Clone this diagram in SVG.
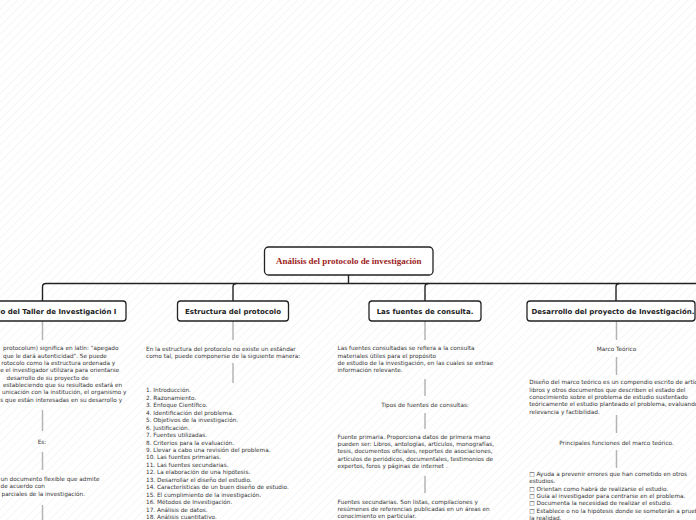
<svg xmlns="http://www.w3.org/2000/svg" width="696" height="520" viewBox="0 0 696 520">
<defs>
<pattern id="hatch" width="6" height="6" patternUnits="userSpaceOnUse" patternTransform="rotate(45)">
<line x1="0" y1="0" x2="0" y2="6" stroke="#ededed" stroke-width="1"/>
</pattern>
<style>
.t{font-family:"DejaVu Sans",Verdana,sans-serif;font-size:5.75px;fill:#333}
.c{text-anchor:middle}
.n{font-family:"DejaVu Sans",Verdana,sans-serif;font-weight:bold;font-size:7px;fill:#222;text-anchor:middle}
.r{font-family:"Liberation Serif","Times New Roman",serif;font-weight:bold;font-size:8.5px;fill:#9b1c1c;text-anchor:middle}
.box{fill:#fff;stroke:#222;stroke-width:1.3}
.tree{fill:none;stroke:#222;stroke-width:1.4}
.g{stroke:#b4b4b4;stroke-width:1.5}
</style>
</defs>
<rect width="696" height="520" fill="#fff"/>
<rect width="696" height="520" fill="url(#hatch)"/>

<g id="connectors">
<path class="tree" d="M348.5 275 V283.5"/>
<path class="tree" d="M42.5 301 V287 Q42.5 283.5 46 283.5 H700"/>
<path class="tree" d="M233 301 V287 Q233 283.5 236.5 283.5"/>
<path class="tree" d="M425 301 V287 Q425 283.5 428.5 283.5"/>
<path class="tree" d="M616 301 V287 Q616 283.5 619.5 283.5"/>
<g class="g">
<line x1="42.5" y1="321" x2="42.5" y2="340"/>
<line x1="42.5" y1="410" x2="42.5" y2="431"/>
<line x1="42.5" y1="452" x2="42.5" y2="470"/>
<line x1="42.5" y1="505" x2="42.5" y2="520"/>
<line x1="233" y1="321" x2="233" y2="340"/>
<line x1="233" y1="363" x2="233" y2="383"/>
<line x1="425" y1="321" x2="425" y2="340"/>
<line x1="425" y1="379" x2="425" y2="396"/>
<line x1="425" y1="413" x2="425" y2="429"/>
<line x1="425" y1="476" x2="425" y2="493"/>
<line x1="616.5" y1="321" x2="616.5" y2="340"/>
<line x1="616.5" y1="357" x2="616.5" y2="375"/>
<line x1="616.5" y1="415" x2="616.5" y2="433"/>
<line x1="616.5" y1="450" x2="616.5" y2="468"/>
</g>
</g>

<g id="root">
<rect class="box" x="264.5" y="247" width="168.5" height="28" rx="4" stroke-width="1.8"/>
<text class="r" x="348.8" y="264" textLength="145.5" lengthAdjust="spacingAndGlyphs">Análisis del protocolo de investigación</text>
</g>

<g id="node-taller">
<rect class="box" x="-42" y="301" width="168" height="20" rx="3"/>
<text class="n" x="42" y="313.5">Protocolo del Taller de Investigación I</text>
</g>
<g id="node-estructura">
<rect class="box" x="177.5" y="301" width="111" height="20" rx="3"/>
<text class="n" x="233" y="313.5">Estructura del protocolo</text>
</g>
<g id="node-fuentes">
<rect class="box" x="369" y="301" width="112" height="20" rx="3"/>
<text class="n" x="425" y="313.5">Las fuentes de consulta.</text>
</g>
<g id="node-desarrollo">
<rect class="box" x="527" y="301" width="168" height="20" rx="3"/>
<text class="n" x="613" y="313.5">Desarrollo del proyecto de Investigación.</text>
</g>

<g id="col-taller">
<text class="t" x="3" y="350.3">protocolum) significa en latín: "apegado</text>
<text class="t" x="3" y="357.7">que le dará autenticidad". Se puede</text>
<text class="t" x="1.3" y="365">rotocolo como la estructura ordenada y</text>
<text class="t" x="0.2" y="372.3">e el investigador utilizara para orientarse</text>
<text class="t" x="6.5" y="379.7">desarrollo de su proyecto de</text>
<text class="t" x="3" y="387">estableciendo que su resultado estará en</text>
<text class="t" x="2" y="394.3">unicación con la institución, el organismo y</text>
<text class="t" x="0.3" y="401.7">s que están interesadas en su desarrollo y</text>
<text class="t c" x="42" y="443.7">Es:</text>
<text class="t" x="0.5" y="481">un documento flexible que admite</text>
<text class="t" x="0.5" y="488.3">de acuerdo con</text>
<text class="t" x="1.5" y="495.5">parciales de la investigación.</text>
</g>

<g id="col-estructura">
<text class="t" x="146" y="351">En la estructura del protocolo no existe un estándar</text>
<text class="t" x="146" y="358.3">como tal, puede componerse de la siguiente manera:</text>
<text class="t" x="146" y="392.4">1. Introducción.</text>
<text class="t" x="146" y="399.8">2. Razonamiento.</text>
<text class="t" x="146" y="407.3">3. Enfoque Científico.</text>
<text class="t" x="146" y="414.7">4. Identificación del problema.</text>
<text class="t" x="146" y="422.2">5. Objetivos de la investigación.</text>
<text class="t" x="146" y="429.6">6. Justificación.</text>
<text class="t" x="146" y="437.1">7. Fuentes utilizadas.</text>
<text class="t" x="146" y="444.5">8. Criterios para la evaluación.</text>
<text class="t" x="146" y="452">9. Llevar a cabo una revisión del problema.</text>
<text class="t" x="146" y="459.4">10. Las fuentes primarias.</text>
<text class="t" x="146" y="466.9">11. Las fuentes secundarias.</text>
<text class="t" x="146" y="474.3">12. La elaboración de una hipótesis.</text>
<text class="t" x="146" y="481.8">13. Desarrollar el diseño del estudio.</text>
<text class="t" x="146" y="489.2">14. Características de un buen diseño de estudio.</text>
<text class="t" x="146" y="496.7">15. El cumplimiento de la investigación.</text>
<text class="t" x="146" y="504.1">16. Métodos de Investigación.</text>
<text class="t" x="146" y="511.6">17. Análisis de datos.</text>
<text class="t" x="146" y="519">18. Análisis cuantitativo.</text>
</g>

<g id="col-fuentes">
<text class="t" x="337.5" y="350.3">Las fuentes consultadas se refiera a la consulta</text>
<text class="t" x="337.5" y="357.7">materiales útiles para el propósito</text>
<text class="t" x="337.5" y="365"> de estudio de la investigación, en las cuales se extrae</text>
<text class="t" x="337.5" y="372.3">información relevante.</text>
<text class="t c" x="425" y="407">Tipos de fuentes de consultas:</text>
<text class="t" x="337.5" y="438.7">Fuente primaria. Proporciona datos de primera mano</text>
<text class="t" x="337.5" y="446">pueden ser: Libros, antologías, artículos, monografías,</text>
<text class="t" x="337.5" y="453.3">tesis, documentos oficiales, reportes de asociaciones,</text>
<text class="t" x="337.5" y="460.7">artículos de periódicos, documentales, testimonios de</text>
<text class="t" x="337.5" y="468.3">expertos, foros y páginas de internet .</text>
<text class="t" x="337.5" y="503.7">Fuentes secundarias. Son listas, compilaciones y</text>
<text class="t" x="337.5" y="511">resúmenes de referencias publicadas en un áreas en</text>
<text class="t" x="337.5" y="518.3">conocimiento en particular.</text>
</g>

<g id="col-desarrollo">
<text class="t c" x="616.5" y="351">Marco Teórico</text>
<text class="t" x="529.3" y="384.3">Diseño del marco teórico es un compendio escrito de artículos,</text>
<text class="t" x="529.3" y="391.7">libros y otros documentos que describen el estado del</text>
<text class="t" x="529.3" y="399">conocimiento sobre el problema de estudio sustentado</text>
<text class="t" x="529.3" y="406.3">teóricamente el estudio planteado el problema, evaluando su</text>
<text class="t" x="529.3" y="413.7">relevancia y factibilidad.</text>
<text class="t c" x="616.5" y="445.3">Principales funciones del marco teórico.</text>
<text class="t" x="529.3" y="476">□ Ayuda a prevenir errores que han cometido en otros</text>
<text class="t" x="529.3" y="483.3">estudios.</text>
<text class="t" x="529.3" y="490.7">□ Orientan como habrá de realizarse el estudio.</text>
<text class="t" x="529.3" y="498">□ Guía al investigador para centrarse en el problema.</text>
<text class="t" x="529.3" y="505.3">□ Documenta la necesidad de realizar el estudio.</text>
<text class="t" x="529.3" y="512.7">□ Establece o no la hipótesis donde se someterán a prueba</text>
<text class="t" x="529.3" y="520">la realidad.</text>
</g>
</svg>
